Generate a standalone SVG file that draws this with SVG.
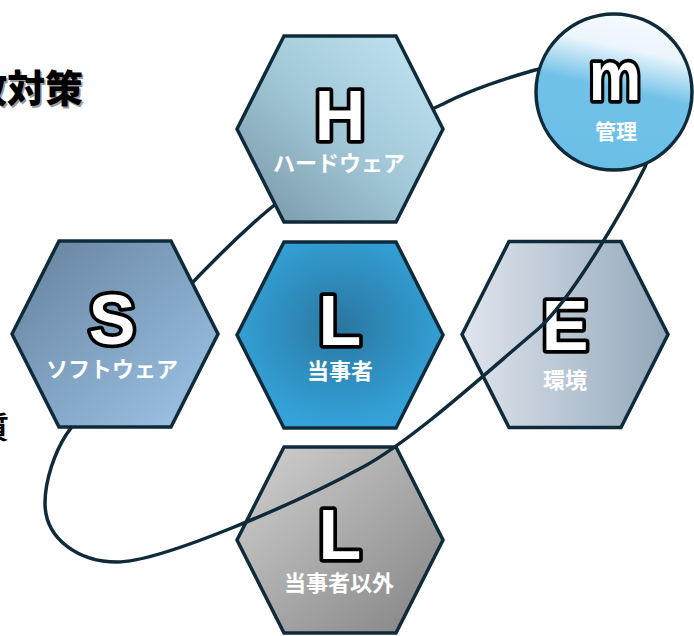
<svg xmlns="http://www.w3.org/2000/svg" xmlns:xlink="http://www.w3.org/1999/xlink" width="694" height="636" viewBox="0 0 694 636">
<style>
.hex{stroke:#0f2b3a;stroke-width:3.5;stroke-linejoin:miter}
.let{font-family:"Liberation Sans",Arial,sans-serif;font-weight:700;font-size:70px;fill:#fff;stroke:#000;stroke-width:7.5;paint-order:stroke;stroke-linejoin:round;text-anchor:middle}
.lab{font-family:"Noto Sans CJK JP",sans-serif;font-weight:700;font-size:22px;fill:#fff;text-anchor:middle}
.head{font-family:"Noto Sans CJK JP",sans-serif;font-weight:900;font-size:38px;text-anchor:end}
.conn{fill:none;stroke:#0f2b3a;stroke-width:3.5}
</style>
<defs>
<path id="hex" d="M-103,0 L-56,-93 L56,-93 L103,0 L56,93 L-56,93 Z"/>
<linearGradient id="gH" x1="0" y1="1" x2="1" y2="0"><stop offset="0" stop-color="#7593a2"/><stop offset="0.5" stop-color="#a2c8d7"/><stop offset="1" stop-color="#c4e6f4"/></linearGradient>
<linearGradient id="gS" x1="0" y1="0" x2="1" y2="1"><stop offset="0" stop-color="#64819c"/><stop offset="1" stop-color="#a0c6ea"/></linearGradient>
<radialGradient id="gL" cx="0.5" cy="0.45" r="0.55"><stop offset="0" stop-color="#2a77a0"/><stop offset="1" stop-color="#34a3da"/></radialGradient>
<linearGradient id="gE" x1="0" y1="0" x2="1" y2="0"><stop offset="0" stop-color="#e0e5ed"/><stop offset="1" stop-color="#92a8bb"/></linearGradient>
<linearGradient id="gL2" x1="0" y1="0" x2="1" y2="1"><stop offset="0" stop-color="#d2d2d2"/><stop offset="1" stop-color="#828282"/></linearGradient>
<linearGradient id="gM" x1="0.62" y1="0" x2="0.4" y2="1"><stop offset="0" stop-color="#f6fbfe"/><stop offset="0.22" stop-color="#eaf5fc"/><stop offset="0.48" stop-color="#72c2e8"/><stop offset="1" stop-color="#6abee6"/></linearGradient>
</defs>
<rect width="694" height="636" fill="#fff"/>
<g id="title">
<text class="head" x="84.5" y="103.5" fill="#9a9a9a">事故対策</text>
<text class="head" x="83" y="102" fill="#000">事故対策</text>
<text x="9" y="438" style="font-family:'Noto Sans CJK JP',sans-serif;font-weight:700;font-size:30px;text-anchor:end" fill="#000">質</text>
</g>
<g id="node-L">
<use xlink:href="#hex" class="hex" x="340" y="335" fill="url(#gL)"/>
<text class="let" x="340" y="345">L</text>
<text class="lab" x="340" y="379">当事者</text>
</g>
<g id="node-E">
<use xlink:href="#hex" class="hex" x="565" y="334.5" fill="url(#gE)"/>
<text class="let" x="565" y="350">E</text>
<text class="lab" x="565" y="388">環境</text>
</g>
<g id="node-L2">
<use xlink:href="#hex" class="hex" x="340" y="540" fill="url(#gL2)"/>
<text class="let" x="340" y="559">L</text>
<text class="lab" x="339" y="591">当事者以外</text>
</g>
<g id="connectors">
<path class="conn" d="M535,70 C500,80 470,90 443,104 C383,131 309,174 259,218 C169,298 91,399 66,435 C55,452 45,480 45,503 C45,540 80,562 117,562 C160,562 293,505 363,467 C413,440 487,372 537,330 C572,300 627,203 645,167 C660,130 660,80 620,70 C590,64 560,64 535,70 Z"/>
</g>
<g id="node-H">
<use xlink:href="#hex" class="hex" x="340" y="129" fill="url(#gH)"/>
<text class="let" x="340" y="140">H</text>
<text class="lab" x="339" y="171">ハードウェア</text>
</g>
<g id="node-S">
<use xlink:href="#hex" class="hex" x="115" y="334" fill="url(#gS)"/>
<text class="let" x="112" y="344">S</text>
<text class="lab" x="112" y="377">ソフトウェア</text>
</g>
<g id="node-m">
<circle cx="614" cy="92" r="78" fill="url(#gM)" stroke="#0f2b3a" stroke-width="3.5"/>
<text class="let" x="615" y="100" textLength="52" lengthAdjust="spacingAndGlyphs">m</text>
<text class="lab" x="616" y="139" style="font-size:21px">管理</text>
</g>
</svg>
